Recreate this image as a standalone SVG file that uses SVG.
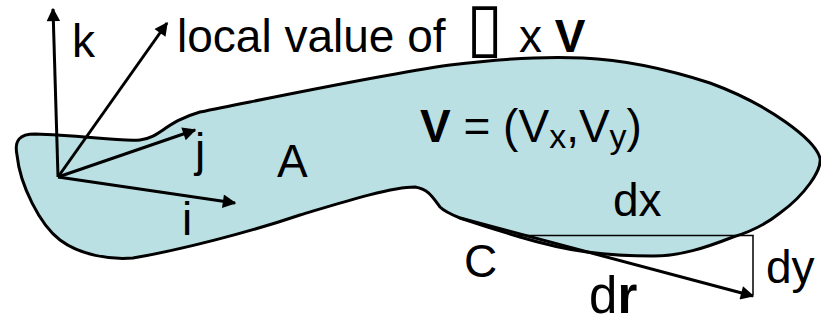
<svg xmlns="http://www.w3.org/2000/svg" width="821" height="320" viewBox="0 0 821 320">
<style>
.t{font-family:"Liberation Sans",Arial,sans-serif;font-size:46px;fill:#000}
.b{font-weight:bold}
.ax{stroke:#000;stroke-width:3;fill:none;marker-end:url(#ah)}
</style>
<defs>
<marker id="ah" viewBox="0 0 10 10" refX="9" refY="5" markerWidth="5.5" markerHeight="4.5" orient="auto">
<path d="M0,0 L10,5 L0,10 z" fill="#000"/>
</marker>
</defs>
<rect width="821" height="320" fill="#fff"/>
<g id="region">
<path d="M17,155 C14,140 20,134 35,134 C80,135 120,142 140,140 C160,138 165,122 200,112 C300,92 380,75 450,65 C490,60 540,56 583,58 C630,60 670,70 710,83 C770,105 815,140 820,158 C822,170 805,195 780,213 C765,225 750,232 733,237 C705,248 680,256 653,256 C630,256 610,255 587,252 C565,249 540,243 520,237 C500,231 475,223 460,218 C450,214 444,211 440,207 C432,196 428,189 415,187 C390,187 340,203 300,215 C250,232 180,250 133,258 C110,260 80,255 60,240 C40,225 20,185 17,155 Z" fill="#bbe0e3" stroke="#000" stroke-width="3"/>
</g>
<g id="connectors">
<line class="ax" x1="58" y1="177" x2="53" y2="9"/>
<line class="ax" x1="58" y1="177" x2="167" y2="23"/>
<line class="ax" x1="58" y1="177" x2="195" y2="130"/>
<line class="ax" x1="58" y1="177" x2="235" y2="203"/>
<line class="ax" x1="460" y1="218" x2="753" y2="296"/>
<polyline points="517,235.5 753,235.5 753,295" fill="none" stroke="#000" stroke-width="1.5"/>
</g>
<g id="labels">
<text class="t" x="72" y="57">k</text>
<text class="t" x="177" y="52">local value of</text>
<text x="466" y="50" style="font-family:'DejaVu Sans',sans-serif;font-size:68px">▯</text>
<text class="t" x="519" y="52">x <tspan class="b">V</tspan></text>
<text class="t" x="195" y="166">j</text>
<text class="t" x="182" y="235">i</text>
<text class="t" x="277" y="177">A</text>
<text class="t" x="420" y="142"><tspan class="b">V</tspan> = (V<tspan dy="6" style="font-size:34px">x</tspan><tspan dy="-6">,V</tspan><tspan dy="6" style="font-size:34px">y</tspan><tspan dy="-6">)</tspan></text>
<text class="t" x="613" y="216">dx</text>
<text class="t" x="464" y="277">C</text>
<text class="t" x="766" y="283">dy</text>
<text class="t" x="589" y="313" style="font-size:51px">d<tspan class="b">r</tspan></text>
</g>
</svg>
